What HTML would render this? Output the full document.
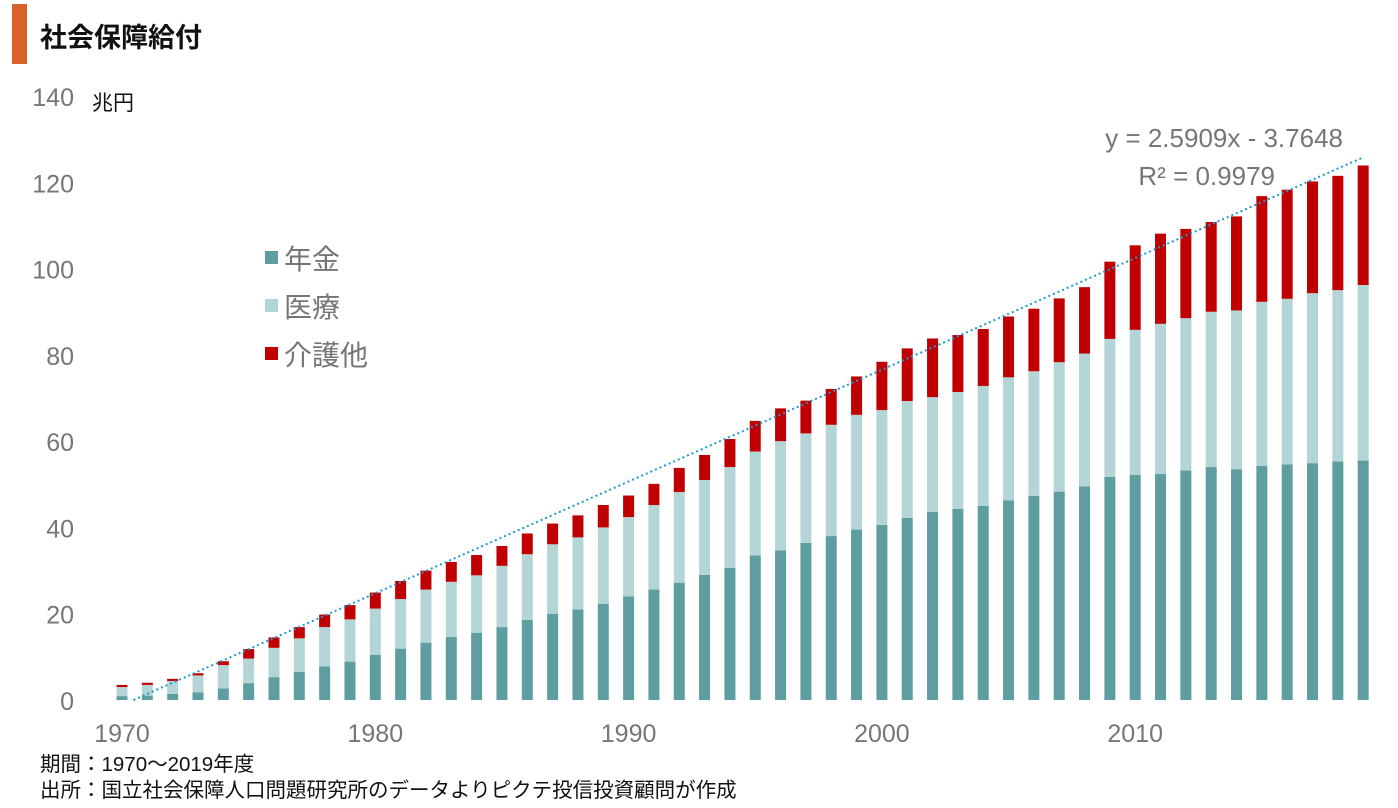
<!DOCTYPE html>
<html><head><meta charset="utf-8"><style>
body{margin:0;width:1398px;height:808px;background:#fff;overflow:hidden;font-family:"Liberation Sans","Noto Sans CJK JP",sans-serif}
</style></head><body>
<svg width="1398" height="808" id="chart" style="position:absolute;left:0;top:0">
<rect x="12" y="4" width="15" height="60" fill="#d9622b"/>
<text x="40" y="47" font-size="27" font-weight="bold" fill="#111" font-family="Liberation Sans,Noto Sans CJK JP,sans-serif">社会保障給付</text>
<text x="92" y="110" font-size="21" fill="#111" font-family="Liberation Sans,Noto Sans CJK JP,sans-serif">兆円</text>
<g id="yt"></g><g id="xt"></g><g id="bars"></g><g id="trend"></g>
<text x="1343" y="147" font-size="26" fill="#767676" text-anchor="end" font-family="Liberation Sans,sans-serif">y = 2.5909x - 3.7648</text>
<text x="1275" y="185" font-size="26" fill="#767676" text-anchor="end" font-family="Liberation Sans,sans-serif">R² = 0.9979</text>
<g font-family="Liberation Sans,Noto Sans CJK JP,sans-serif" font-size="28" fill="#767676">
<rect x="265" y="251" width="13" height="13" fill="#5f9ea0"/><text x="284" y="269">年金</text>
<rect x="265" y="299" width="13" height="13" fill="#b4d5d6"/><text x="284" y="317">医療</text>
<rect x="265" y="347" width="13" height="13" fill="#c00000"/><text x="284" y="365">介護他</text>
</g>
<text x="40" y="771" font-size="20.5" fill="#111" font-family="Liberation Sans,Noto Sans CJK JP,sans-serif">期間：1970～2019年度</text>
<text x="40" y="797" font-size="20.5" fill="#111" font-family="Liberation Sans,Noto Sans CJK JP,sans-serif">出所：国立社会保障人口問題研究所のデータよりピクテ投信投資顧問が作成</text>
</svg>
<script>
const years=[];for(let y=1970;y<=2019;y++)years.push(y);
const totals=[3.5,4.0,4.9,6.2,9.0,11.8,14.5,16.9,19.8,22.0,24.9,27.6,30.0,32.0,33.6,35.7,38.6,40.9,42.8,45.2,47.4,50.1,53.8,56.8,60.5,64.7,67.6,69.4,72.1,75.0,78.4,81.5,83.8,84.6,86.0,88.9,90.7,93.1,95.7,101.6,105.4,108.1,109.2,110.8,112.1,116.8,118.3,120.2,121.5,123.9];
const pension=[0.9,1.0,1.4,1.8,2.7,3.9,5.3,6.5,7.8,8.9,10.5,11.9,13.3,14.6,15.6,16.9,18.6,20.0,21.0,22.3,24.0,25.6,27.2,29.0,30.6,33.5,34.7,36.4,38.0,39.5,40.6,42.2,43.6,44.3,45.0,46.3,47.3,48.3,49.5,51.7,52.2,52.4,53.2,54.0,53.5,54.3,54.6,54.9,55.3,55.5];
const medical=[2.1,2.5,3.0,3.9,5.4,5.7,6.8,7.8,9.1,9.8,10.7,11.5,12.3,12.8,13.3,14.2,15.2,16.1,16.7,17.7,18.4,19.6,21.0,22.0,23.4,24.1,25.3,25.4,25.8,26.6,26.6,27.1,26.6,27.1,27.8,28.5,28.9,30.0,30.8,32.0,33.6,34.8,35.3,36.0,36.8,38.0,38.4,39.4,39.7,40.7];
const yTicks=[0,20,40,60,80,100,120,140];
const xTicks=[1970,1980,1990,2000,2010];
const trendSlope=2.5909, trendIntercept=-3.7648;
const NS="http://www.w3.org/2000/svg";
const yS=v=>700-v*4.314;
const xS=y=>122+(y-1970)*25.33;
function mk(t,a,p){const e=document.createElementNS(NS,t);for(const k in a)e.setAttribute(k,a[k]);p.appendChild(e);return e;}
const yt=document.getElementById('yt');
yTicks.forEach(v=>{const t=mk('text',{x:74,y:yS(v)+10,'font-size':25,fill:'#767676','text-anchor':'end','font-family':'Liberation Sans,sans-serif'},yt);t.textContent=v;

});
const xt=document.getElementById('xt');
xTicks.forEach(v=>{const t=mk('text',{x:xS(v),y:742,'font-size':25,fill:'#767676','text-anchor':'middle','font-family':'Liberation Sans,sans-serif'},xt);t.textContent=v;

});
const g=document.getElementById('bars');const w=11;
years.forEach((y,i)=>{const care=Math.max(0,totals[i]-pension[i]-medical[i]);const x=xS(y)-w/2;
const segs=[[0,pension[i],'#5f9ea0','bar-pension'],[pension[i],pension[i]+medical[i],'#b4d5d6','bar-medical'],[pension[i]+medical[i],pension[i]+medical[i]+care,'#c00000','bar-care']];
segs.forEach(s=>{const r=mk('rect',{x:x,y:yS(s[1]),width:w,height:Math.max(0,yS(s[0])-yS(s[1])),fill:s[2]},g);

});});
const x0=-trendIntercept/trendSlope, x1=years.length;
const ln=mk('line',{x1:xS(1969+x0),y1:yS(0),x2:xS(1969+x1),y2:yS(trendSlope*x1+trendIntercept),stroke:'#1a9bd0','stroke-width':2,'stroke-dasharray':'2,3'},document.getElementById('trend'));


</script>
</body></html>
